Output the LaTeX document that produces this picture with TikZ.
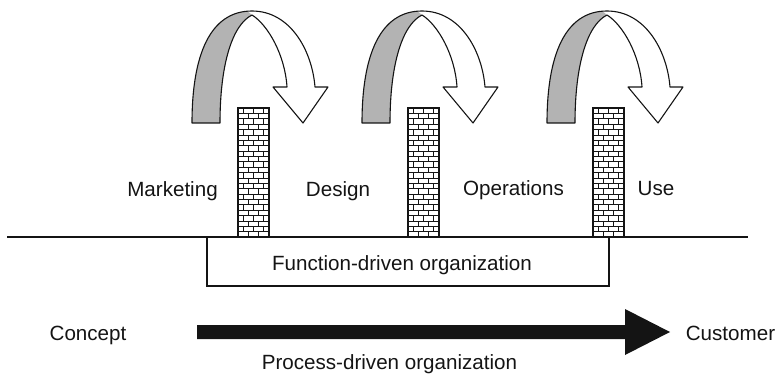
\documentclass[tikz,border=0pt]{standalone}
\usepackage{fontspec}
\setmainfont{Liberation Sans}
\definecolor{ribbongray}{RGB}{179,179,179}
\definecolor{inkblack}{RGB}{20,20,20}

% one brick wall, left edge at #1
\newcommand\brickwall[1]{%
  \begin{scope}
    \clip (#1,108) rectangle ++(31,129);
    \foreach \r in {0,...,23} {
      \pgfmathsetmacro\yy{108+\r*5.375}
      \pgfmathsetmacro\off{mod(\r,2)==0 ? 5.5 : 10.5}
      \draw[brickline] (#1,\yy) -- ++(31,0);
      \foreach \k in {0,1,2}
        \draw[brickline] ({#1+\off+10*\k},\yy) -- ++(0,5.375);
    }
  \end{scope}
  \draw[outline] (#1,108) rectangle ++(31,129);
}

% outline of the bent ribbon arrow
\newcommand\ribbonoutline{%
  (192,123) .. controls (192,55) and (210,11) .. (252,11)
  .. controls (290,11) and (312,50) .. (315,87)
  -- (328,87) -- (303,123) -- (273,87) -- (287,87)
  .. controls (285,55) and (268,25) .. (252,15)
  .. controls (232,25) and (220,65) .. (220,123) -- cycle}

% a whole ribbon arrow, shifted right by #1
\newcommand\ribbonarrow[1]{%
  \begin{scope}[xshift=#1pt]
    \fill[white] \ribbonoutline;
    \begin{scope}
      \clip \ribbonoutline;
      \fill[ribbongray] (180,130) -- (180,0) -- (234,0) -- (252,15) -- (252,130) -- cycle;
    \end{scope}
    \draw[outline, line join=round] \ribbonoutline;
  \end{scope}
}

\begin{document}
\begin{tikzpicture}[x=1pt, y=-1pt,
    outline/.style={draw=inkblack, line width=1.1pt},
    brickline/.style={draw=inkblack, line width=0.7pt},
    lbl/.style={anchor=base, inner sep=0pt, text=inkblack,
                font=\fontsize{20.6}{24}\selectfont}]
  \useasboundingbox (0,0) rectangle (778,374);

  % ribbon arrows over the walls
  \ribbonarrow{0}
  \ribbonarrow{170}
  \ribbonarrow{355}

  % walls between the functions
  \brickwall{238}
  \brickwall{408}
  \brickwall{593}

  % ground line and the function box
  \draw[outline] (7,237) -- (748,237);
  \node[outline, minimum width=402pt, minimum height=49pt, inner sep=0pt]
    (fbox) at (408,261.5) {};

  % function labels
  \node[lbl] (marketing) at (172.5,196.5) {Marketing};
  \node[lbl] (design) at (338,196.5) {Design};
  \node[lbl] (operations) at (513.5,195.5) {Operations};
  \node[lbl] (use) at (656,195.5) {Use};
  \node[lbl] (function) at (402,270) {Function-driven organization};

  % process arrow
  \fill[inkblack] (197,325) -- (625,325) -- (625,309) -- (670,332)
    -- (625,355) -- (625,339) -- (197,339) -- cycle;
  \node[lbl] (concept) at (88,340.5) {Concept};
  \node[lbl] (customer) at (730.5,340.5) {Customer};
  \node[lbl] (process) at (389.5,369.5) {Process-driven organization};
\end{tikzpicture}
\end{document}
